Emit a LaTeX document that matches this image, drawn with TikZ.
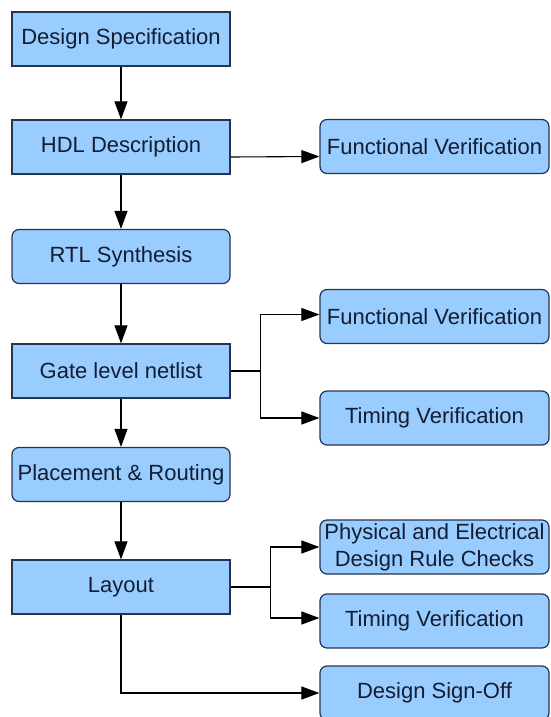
\documentclass[tikz,border=0pt]{standalone}
\usepackage{fontspec}
\setmainfont{Liberation Sans}
\usepackage{xcolor}
\usetikzlibrary{arrows.meta, positioning}
\definecolor{boxblue}{RGB}{153,204,255}
\definecolor{boxedge}{RGB}{38,52,78}
\definecolor{boxtext}{RGB}{20,30,50}

\begin{document}
\begin{tikzpicture}[
        x=1pt, y=-1pt,
        box/.style={rectangle, draw=boxedge, line width=1.2pt, fill=boxblue, text=boxtext, inner sep=0pt,
                    minimum width=218pt, minimum height=54pt, align=center,
                    font=\fontsize{22pt}{27pt}\selectfont},
        roundbox/.style={box, rounded corners=7pt},
        sidebox/.style={roundbox, minimum width=229pt},
        arrow/.style={-{Triangle[length=18pt, width=13pt]}, line width=1.1pt}
    ]
        \useasboundingbox (0,0) rectangle (550,717);

        % Main flow
        \node[box] (spec) at (121, 39) {Design Specification};
        \node[box] (hdl) at (121, 147) {HDL Description};
        \node[roundbox] (rtl) at (121, 256.5) {RTL Synthesis};
        \node[box] (gate) at (121, 371) {Gate level netlist};
        \node[roundbox] (pnr) at (121, 474.5) {Placement \& Routing};
        \node[box] (layout) at (121, 587) {Layout};

        \draw[arrow] (spec) -- (hdl);
        \draw[arrow] (hdl) -- (rtl);
        \draw[arrow] (rtl) -- (gate);
        \draw[arrow] (gate) -- (pnr);
        \draw[arrow] (pnr) -- (layout);

        % Checks on the right
        \node[sidebox] (fv1) at (434.5, 146.5) {Functional Verification};
        \node[sidebox] (fv2) at (434.5, 316.5) {Functional Verification};
        \node[sidebox] (tv1) at (434.5, 418) {Timing Verification};
        \node[sidebox] (drc) at (434.5, 547) {Physical and Electrical\\Design Rule Checks};
        \node[sidebox] (tv2) at (434.5, 621) {Timing Verification};
        \node[sidebox] (signoff) at (434.5, 693) {Design Sign-Off};

        \draw[arrow] ([yshift=-10pt]hdl.east) -- ([yshift=-10pt]fv1.west);

        % Gate level netlist -> verification
        \draw[line width=1.1pt] (gate.east) -- ++(30,0) coordinate (gatesplit);
        \draw[arrow] (gatesplit) |- ([yshift=2pt]fv2.west);
        \draw[arrow] (gatesplit) |- (tv1.west);

        % Layout -> checks and sign-off
        \draw[line width=1.1pt] (layout.east) -- ++(40,0) coordinate (layoutsplit);
        \draw[arrow] (layoutsplit) |- (drc.west);
        \draw[arrow] (layoutsplit) |- ([yshift=3pt]tv2.west);
        \draw[arrow] (layout.south) |- (signoff.west);

    \end{tikzpicture}
\end{document}
